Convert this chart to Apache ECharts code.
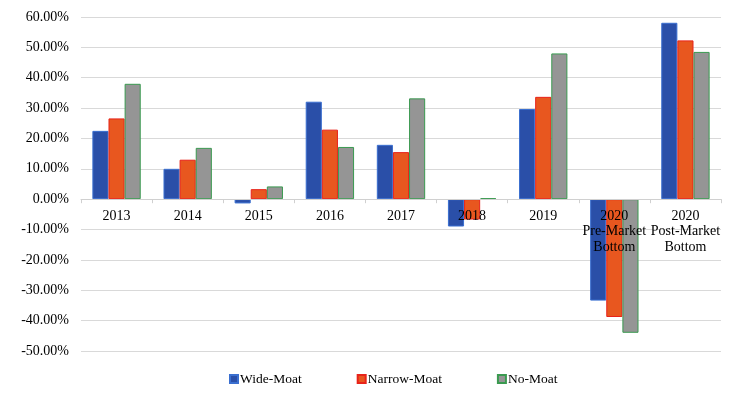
<!DOCTYPE html>
<html><head><meta charset="utf-8">
<script src="https://cdn.jsdelivr.net/npm/echarts@6/dist/echarts.min.js"></script>
<style>html,body{margin:0;padding:0;background:#fff}#c{width:740px;height:396px}</style>
</head><body><div id="c"></div>
<script>
var categories = ['2013','2014','2015','2016','2017','2018','2019','2020\nPre-Market\nBottom','2020\nPost-Market\nBottom'];
var wideMoat   = [22.5, 10.0, -1.4, 32.1, 17.9, -9.0, 29.7, -33.4, 58.1];
var narrowMoat = [26.6, 13.0, 3.3, 22.9, 15.5, -6.7, 33.7, -38.8, 52.3];
var noMoat     = [38.0, 16.9, 4.2, 17.2, 33.2, 0.3, 48.0, -44.0, 48.5];
var seriesNames = ['Wide-Moat','Narrow-Moat','No-Moat'];

var font = '"Liberation Serif", "Times New Roman", serif';
var W = 740, H = 396, gTop = 17, gBottom = 45, yMin = -50, yMax = 60;
var plotH = H - gTop - gBottom;
var zeroOffset = -plotH * (0 - yMin) / (yMax - yMin);

var chart = echarts.init(document.getElementById('c'));
function mk(name, data, fill, border){
  return {name:name, type:'bar', data:data, barGap:'0%', barCategoryGap:'32%', z:2,
    itemStyle:{color:fill, borderColor:border, borderWidth:1}};
}
chart.setOption({
  animation:false,
  textStyle:{fontFamily:font},
  grid:{left:81, right:19, top:gTop, bottom:gBottom, containLabel:false, outerBoundsMode:'none'},
  legend:{top:367, left:224, itemWidth:8, itemHeight:8, itemGap:55,
    textStyle:{fontFamily:font, fontSize:13.5, color:'#000', padding:[0,0,0,-3]},
    icon:'rect',
    data:seriesNames},
  xAxis:{type:'category', data:categories, position:'bottom', offset:zeroOffset, z:10,
    axisLine:{onZero:false, lineStyle:{color:'#d0d0d0'}},
    axisTick:{show:true, length:4, lineStyle:{color:'#d0d0d0'}},
    axisLabel:{fontFamily:font, fontSize:14, color:'#000', interval:0, lineHeight:15.5, margin:9}},
  yAxis:{type:'value', min:yMin, max:yMax, interval:10,
    axisLine:{show:false}, axisTick:{show:false},
    splitLine:{lineStyle:{color:'#d9d9d9', width:1}},
    axisLabel:{fontFamily:font, fontSize:14, color:'#000', margin:12,
      formatter:function(v){return v.toFixed(2)+'%';}}},
  series:[
    mk(seriesNames[0], wideMoat, '#2a4fa8', '#3a6fd0'),
    mk(seriesNames[1], narrowMoat, '#e8571f', '#e8231a'),
    mk(seriesNames[2], noMoat, '#959595', '#3a9a50')
  ]
});
</script></body></html>
